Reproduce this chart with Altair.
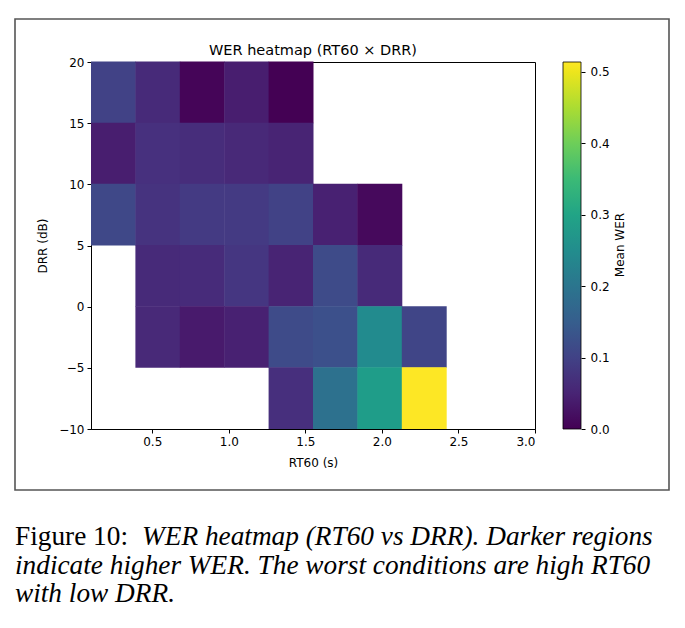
import altair as alt
import pandas as pd

# RT60 bin edges (s) and DRR bin edges (dB)
rt60_edges = [0.1, 0.39, 0.68, 0.97, 1.26, 1.55, 1.84, 2.13, 2.42]
drr_edges = [-10, -5, 0, 5, 10, 15, 20]

# Mean WER per cell; rows run from the top DRR bin (15..20) down to (-10..-5),
# columns follow the RT60 bins. None marks bins without any utterances.
wer_rows = [
    [0.100, 0.060, 0.005, 0.040, 0.000, None, None, None],
    [0.040, 0.070, 0.065, 0.058, 0.050, None, None, None],
    [0.110, 0.075, 0.085, 0.085, 0.100, 0.045, 0.010, None],
    [None, 0.060, 0.062, 0.080, 0.050, 0.115, 0.060, None],
    [None, 0.058, 0.035, 0.045, 0.115, 0.125, 0.245, 0.105],
    [None, None, None, None, 0.068, 0.190, 0.285, 0.514],
]

wer_ticks = [0.0, 0.1, 0.2, 0.3, 0.4, 0.5]
rt60_ticks = [0.5, 1.0, 1.5, 2.0, 2.5, 3.0]
drr_ticks = [-10, -5, 0, 5, 10, 15, 20]

plot_title = "WER heatmap (RT60 × DRR)"
caption_head = "Figure 10:"
caption_lines = [
    "WER heatmap (RT60 vs DRR). Darker regions",
    "indicate higher WER. The worst conditions are high RT60",
    "with low DRR.",
]

records = []
n_rows = len(wer_rows)
for i, row in enumerate(wer_rows):
    lo = drr_edges[n_rows - 1 - i]
    hi = drr_edges[n_rows - i]
    for j, v in enumerate(row):
        if v is None:
            continue
        records.append({
            "rt60_lo": rt60_edges[j], "rt60_hi": rt60_edges[j + 1],
            "drr_lo": lo, "drr_hi": hi, "wer": v,
        })
cells = pd.DataFrame(records)

W, H = 444, 367
PAD_L, PAD_T = 91, 62
FONT = "DejaVu Sans"
SERIF = "Liberation Serif"
CBAR_X = 472          # colour bar left edge, relative to the plot area
CBAR_W = 18

wer_max = max(max(v for v in r if v is not None) for r in wer_rows)
color_scale = alt.Scale(scheme="viridis", domain=[0, wer_max])

# cells overlap their neighbours by half a pixel so no seams show between them
heat = alt.Chart(cells).mark_rect(x2Offset=0.5, y2Offset=-0.5).encode(
    x=alt.X("rt60_lo:Q", title="RT60 (s)",
            scale=alt.Scale(domain=[0.1, 3.0], nice=False, zero=False),
            axis=alt.Axis(values=rt60_ticks, format=".1f", titlePadding=10)),
    x2="rt60_hi:Q",
    y=alt.Y("drr_lo:Q", title="DRR (dB)",
            scale=alt.Scale(domain=[-10, 20], nice=False, zero=False),
            axis=alt.Axis(values=drr_ticks, format="d", titlePadding=9)),
    y2="drr_hi:Q",
    color=alt.Color("wer:Q", scale=color_scale,
                    legend=alt.Legend(
                        type="gradient",
                        orient="none", legendX=CBAR_X, legendY=0,
                        direction="vertical", title=None,
                        gradientLength=H, gradientThickness=CBAR_W,
                        values=wer_ticks, labelExpr="''", padding=0,
                        gradientStrokeColor="black", gradientStrokeWidth=0.8)),
)

# tick marks and labels of the colour bar, drawn as a right-hand WER axis
cbar_axis = alt.Chart(pd.DataFrame({"wer": wer_ticks})).mark_point(opacity=0).encode(
    y=alt.Y("wer:Q", scale=alt.Scale(domain=[0, wer_max], nice=False, zero=False),
            axis=alt.Axis(orient="right", offset=CBAR_X + CBAR_W - W, values=wer_ticks,
                          format=".1f", domain=False, title=None, labelPadding=5)),
)

one = alt.Data(values=[{}])

title_text = alt.Chart(one).mark_text(
    font=FONT, fontSize=14.5, color="black", align="center", baseline="alphabetic"
).encode(x=alt.value(W / 2), y=alt.value(-7), text=alt.value(plot_title))

cbar_title = alt.Chart(one).mark_text(
    font=FONT, fontSize=12, angle=270, color="black", align="center", baseline="middle"
).encode(x=alt.value(529), y=alt.value(183), text=alt.value("Mean WER"))

frame = alt.Chart(one).mark_rect(
    fill=None, stroke="#555555", strokeWidth=1.6
).encode(x=alt.value(15 - PAD_L), x2=alt.value(669 - PAD_L),
         y=alt.value(19 - PAD_T), y2=alt.value(490 - PAD_T))

cap_y = [545 - PAD_T, 574 - PAD_T, 602 - PAD_T]
cap_head = alt.Chart(one).mark_text(
    font=SERIF, fontSize=27.3, color="black", align="left", baseline="alphabetic"
).encode(x=alt.value(15 - PAD_L), y=alt.value(cap_y[0]), text=alt.value(caption_head))

cap_body = []
cap_x = [142 - PAD_L, 15 - PAD_L, 15 - PAD_L]
for k, line in enumerate(caption_lines):
    cap_body.append(alt.Chart(one).mark_text(
        font=SERIF, fontSize=27.3, fontStyle="italic", color="black",
        align="left", baseline="alphabetic"
    ).encode(x=alt.value(cap_x[k]), y=alt.value(cap_y[k]), text=alt.value(line)))

chart = alt.layer(frame, heat, cbar_axis, title_text, cbar_title, cap_head, *cap_body).resolve_scale(
    y="independent"
).properties(
    width=W, height=H,
    background="white",
    autosize=alt.AutoSizeParams(type="none"),
    padding={"left": PAD_L, "top": PAD_T, "right": 685 - PAD_L - W, "bottom": 628 - PAD_T - H},
).configure_view(
    stroke="black", strokeWidth=1
).configure_axis(
    labelFont=FONT, labelFontSize=12, labelColor="black", labelPadding=3,
    titleFont=FONT, titleFontSize=12, titleFontWeight="normal", titleColor="black",
    tickColor="black", tickSize=4, domainColor="black", domainWidth=1, grid=False,
)

chart.save("out.html", embed_options={"renderer": "svg", "actions": False})
